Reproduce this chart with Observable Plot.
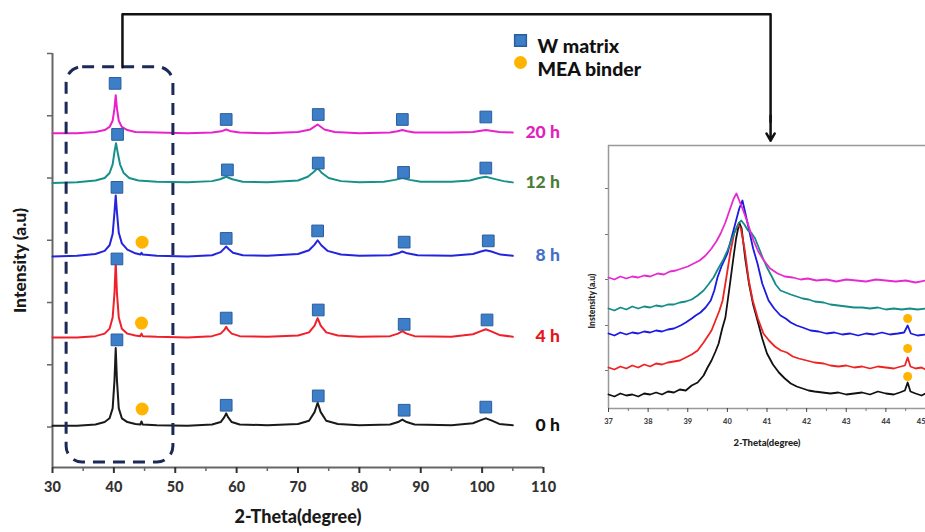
<!DOCTYPE html>
<html><head><meta charset="utf-8">
<script src="https://cdn.jsdelivr.net/npm/d3@7"></script>
<script src="https://cdn.jsdelivr.net/npm/@observablehq/plot@0.6"></script>
<style>
html,body{margin:0;padding:0;background:#fff;overflow:hidden;}
#wrap{position:relative;width:925px;height:532px;overflow:hidden;}
#wrap svg{position:absolute;left:0;top:0;max-width:none;background:transparent;}
</style></head><body><div id="wrap"></div>
<script>
// ---------------- Main XRD patterns (2-Theta, intensity a.u. offset) ----------------
const pattern0h = [[30,0.02],[34,0.02],[37,0.04],[38.5,0.08],[39.3,0.14],[39.8,0.3],[40.1,0.75],[40.3,1.27],[40.5,0.75],[40.8,0.3],[41.3,0.14],[42.2,0.08],[43.5,0.05],[44.3,0.04],[44.5,0.09],[44.7,0.04],[47,0.03],[52,0.02],[56,0.04],[57.4,0.08],[58,0.16],[58.3,0.22],[58.6,0.16],[59.2,0.08],[60.5,0.04],[65,0.03],[70,0.05],[71.8,0.1],[72.7,0.24],[73.2,0.39],[73.7,0.24],[74.6,0.1],[76.5,0.05],[80,0.03],[85,0.04],[86.3,0.08],[87,0.12],[87.7,0.08],[89,0.04],[95,0.03],[98.5,0.06],[99.8,0.11],[100.6,0.14],[101.4,0.11],[102.8,0.05],[105,0.03]];
const pattern4h = [[30,1.44],[34,1.44],[37,1.46],[38.5,1.5],[39.3,1.58],[39.8,1.76],[40.1,2.15],[40.3,2.65],[40.5,2.15],[40.8,1.76],[41.3,1.58],[42.2,1.5],[43.5,1.47],[44.3,1.46],[44.5,1.5],[44.7,1.46],[47,1.45],[52,1.44],[56,1.46],[57.4,1.5],[58,1.56],[58.3,1.61],[58.6,1.56],[59.2,1.5],[60.5,1.46],[65,1.45],[70,1.47],[71.8,1.52],[72.7,1.63],[73.2,1.75],[73.7,1.63],[74.6,1.52],[76.5,1.47],[80,1.45],[85,1.46],[86.3,1.5],[87,1.54],[87.7,1.5],[89,1.46],[95,1.45],[98.5,1.49],[99.8,1.54],[100.6,1.57],[101.4,1.54],[102.8,1.48],[105,1.45]];
const pattern8h = [[30,2.74],[34,2.75],[37,2.78],[38.5,2.83],[39.3,2.92],[39.8,3.1],[40.1,3.45],[40.3,3.72],[40.5,3.45],[40.8,3.12],[41.3,2.95],[42.2,2.85],[43.5,2.79],[44.3,2.77],[44.5,2.8],[44.7,2.77],[47,2.75],[52,2.74],[56,2.76],[57.4,2.81],[58,2.87],[58.3,2.9],[58.7,2.86],[59.4,2.8],[61,2.76],[65,2.75],[70,2.78],[71.8,2.84],[72.7,2.93],[73.2,3.0],[73.8,2.92],[74.8,2.83],[77,2.77],[80,2.75],[85,2.76],[86.3,2.79],[87,2.82],[87.8,2.79],[89.5,2.76],[95,2.75],[98.5,2.78],[99.8,2.82],[100.6,2.84],[101.5,2.82],[103,2.77],[105,2.75]];
const pattern12h = [[30,3.92],[34,3.93],[37,3.96],[38.5,4.0],[39.3,4.08],[39.8,4.22],[40.1,4.42],[40.35,4.56],[40.6,4.42],[41,4.22],[41.6,4.08],[42.5,4.0],[44,3.96],[47,3.94],[52,3.93],[56,3.95],[57.3,3.98],[58.3,4.02],[59.3,3.98],[61,3.94],[65,3.93],[70,3.96],[71.6,4.02],[72.6,4.1],[73.2,4.16],[73.9,4.08],[75,4.0],[77,3.95],[80,3.93],[84,3.94],[85.8,3.97],[87,4.0],[88.2,3.97],[90,3.94],[95,3.94],[98,3.96],[99.5,4.0],[100.6,4.02],[101.8,3.99],[103.5,3.95],[105,3.93]];
const pattern20h = [[30,4.72],[34,4.72],[37,4.74],[38.5,4.77],[39.3,4.82],[39.8,4.92],[40.1,5.12],[40.3,5.33],[40.5,5.12],[40.8,4.92],[41.3,4.82],[42.2,4.77],[43.5,4.74],[47,4.73],[52,4.72],[56,4.73],[57.5,4.75],[58.3,4.78],[59.1,4.75],[60.5,4.73],[65,4.72],[70,4.74],[72,4.78],[73.2,4.86],[74.3,4.78],[76,4.74],[80,4.72],[85,4.73],[86.2,4.75],[87,4.77],[87.8,4.75],[89,4.73],[95,4.73],[98.5,4.74],[99.8,4.76],[100.6,4.77],[101.4,4.76],[102.8,4.74],[105,4.73]];

// W matrix peak markers (square) and MEA binder markers (circle)
const wMarks0h  = [[40.5,1.40],[58.3,0.35],[73.3,0.50],[87.3,0.27],[100.6,0.32]];
const wMarks4h  = [[40.5,2.70],[58.3,1.75],[73.3,1.88],[87.3,1.65],[100.8,1.72]];
const wMarks8h  = [[40.5,3.85],[58.3,3.03],[73.2,3.15],[87.3,2.97],[101.0,2.99]];
const wMarks12h = [[40.6,4.70],[58.5,4.13],[73.3,4.24],[87.2,4.09],[100.6,4.16]];
const wMarks20h = [[40.2,5.52],[58.3,4.94],[73.3,5.02],[87.0,4.94],[100.6,4.98]];
const meaMarks  = [[44.6,0.29],[44.5,1.67],[44.6,2.97]];

const seriesLabels = ["0 h","4 h","8 h","12 h","20 h"];
const xTicks = [30,40,50,60,70,80,90,100,110];
const xMinorTicks = [35,45,55,65,75,85,95,105];
const yTicks = [0,1,2,3,4,5,6];
const legendLabels = ["W matrix","MEA binder"];
const zoomWindow = {x1:32.3, x2:49.7, y1:-0.57, y2:5.78};
const connectorPath = [[41.4,5.78],[41.4,6.63],[147.0,6.63],[147.0,4.9]];
const connectorArrow = {x1:147.0, y1:5.0, x2:147.0, y2:4.6};

// ---------------- Inset (37-45 degrees) ----------------
const inset0h = [[37.0,14],[37.15,12],[37.3,15],[37.45,13],[37.6,14],[37.75,12],[37.9,15],[38.05,14],[38.2,16],[38.35,14],[38.5,17],[38.65,16],[38.8,19],[38.95,18],[39.1,23],[39.25,26],[39.4,33],[39.5,41],[39.6,48],[39.7,57],[39.78,65],[39.87,80],[39.95,91],[40.05,120],[40.15,150],[40.22,170],[40.3,186],[40.36,180],[40.45,150],[40.55,124],[40.65,104],[40.76,88],[40.88,70],[41.0,55],[41.15,44],[41.3,36],[41.45,30],[41.6,25],[41.75,22],[41.9,20],[42.05,18],[42.2,17],[42.4,16],[42.6,15],[42.8,16],[43.0,14],[43.2,15],[43.4,16],[43.6,14],[43.8,17],[44.0,15],[44.2,14],[44.35,16],[44.48,18],[44.55,26],[44.62,17],[44.75,15],[44.9,13],[45.0,15]];
const inset4h = [[37.0,41],[37.15,39],[37.3,42],[37.45,40],[37.6,43],[37.75,41],[37.9,44],[38.05,42],[38.2,45],[38.35,44],[38.5,46],[38.65,47],[38.8,48],[38.95,51],[39.1,54],[39.25,58],[39.4,66],[39.5,72],[39.6,78],[39.7,88],[39.8,98],[39.88,108],[39.97,130],[40.07,155],[40.17,175],[40.27,184],[40.34,180],[40.44,158],[40.54,128],[40.64,108],[40.77,90],[40.91,75],[41.05,68],[41.2,62],[41.35,58],[41.5,56],[41.65,52],[41.8,50],[42.0,48],[42.2,46],[42.43,45],[42.6,43],[42.8,42],[43.0,43],[43.2,41],[43.4,42],[43.6,40],[43.8,42],[44.0,41],[44.2,40],[44.38,42],[44.48,43],[44.55,51],[44.62,42],[44.75,40],[44.9,41],[45.0,39]];
const inset8h = [[37.0,75],[37.15,73],[37.3,76],[37.45,74],[37.6,76],[37.75,75],[37.9,77],[38.05,76],[38.2,78],[38.35,77],[38.5,79],[38.65,80],[38.82,83],[38.95,86],[39.1,90],[39.2,93],[39.32,96],[39.45,101],[39.58,108],[39.67,118],[39.75,131],[39.85,142],[40.0,155],[40.1,170],[40.2,185],[40.3,200],[40.38,208],[40.45,196],[40.55,178],[40.65,160],[40.76,145],[40.88,125],[41.04,108],[41.18,100],[41.34,93],[41.47,90],[41.6,86],[41.75,83],[41.9,81],[42.1,78],[42.3,77],[42.5,75],[42.7,76],[42.9,74],[43.1,75],[43.3,73],[43.5,75],[43.7,74],[43.9,76],[44.1,74],[44.3,75],[44.46,76],[44.55,83],[44.63,75],[44.8,73],[45.0,74]];
const inset12h = [[37.0,100],[37.15,98],[37.3,101],[37.45,99],[37.6,102],[37.75,100],[37.9,102],[38.05,101],[38.2,103],[38.35,102],[38.5,104],[38.65,104],[38.8,106],[38.95,107],[39.1,109],[39.25,113],[39.4,118],[39.52,124],[39.65,131],[39.77,140],[39.9,149],[40.0,158],[40.1,168],[40.2,178],[40.28,185],[40.35,188],[40.43,184],[40.52,178],[40.6,176],[40.7,170],[40.8,160],[40.9,150],[41.0,141],[41.12,132],[41.22,124],[41.34,118],[41.47,116],[41.6,114],[41.75,112],[41.9,110],[42.05,109],[42.2,107],[42.43,106],[42.6,104],[42.8,103],[43.0,102],[43.2,101],[43.4,101],[43.6,100],[43.8,101],[44.0,99],[44.2,100],[44.4,99],[44.6,100],[44.8,99],[45.0,100]];
const inset20h = [[37.0,131],[37.15,129],[37.3,132],[37.45,130],[37.6,132],[37.75,131],[37.9,133],[38.05,132],[38.24,135],[38.4,134],[38.55,137],[38.7,138],[38.85,140],[39.0,142],[39.15,145],[39.3,148],[39.45,153],[39.6,160],[39.72,167],[39.83,175],[39.95,186],[40.08,201],[40.16,210],[40.23,215],[40.3,208],[40.4,198],[40.5,187],[40.58,177],[40.66,168],[40.78,157],[40.92,148],[41.08,140],[41.27,135],[41.45,132],[41.65,131],[41.85,129],[42.03,130],[42.25,128],[42.5,129],[42.75,127],[43.0,129],[43.25,128],[43.5,127],[43.75,129],[44.0,128],[44.25,127],[44.5,128],[44.75,126],[45.0,128]];
const insetMeaMarks = [[44.55,32],[44.55,60],[44.55,90]];
const insetXTicks = [37,38,39,40,41,42,43,44];
const insetLastTick = [45];
const insetXMinorTicks = [37.5,38.5,39.5,40.5,41.5,42.5,43.5,44.5];
const insetYTicks = [38,83,129,174,220];

// ---------------- Styles ----------------
const lineColors  = ["#1a1a1a","#f0202a","#2424dc","#17908b","#e722cc"];
const labelColors = ["#111111","#e8141c","#4670c8","#4a7d36","#e020c0"];
const insetColors = ["#111111","#ee2424","#1a1ae0","#148c88","#e62ad0"];
const squareFill = "#3d7ec8", squareStroke = "#2a5e9c", dotFill = "#ffb400";
const FONT = "Lato, 'Open Sans', sans-serif";

const patterns = [pattern0h, pattern4h, pattern8h, pattern12h, pattern20h];
const wMarks = [wMarks0h, wMarks4h, wMarks8h, wMarks12h, wMarks20h];
const insets = [inset0h, inset4h, inset8h, inset12h, inset20h];
const toXY = a => a.map(([x, y]) => ({x, y}));

const wrap = document.getElementById("wrap");

// ---------------- Main plot ----------------
const main = Plot.plot({
  width: 925, height: 532,
  marginLeft: 52, marginRight: 382, marginTop: 53, marginBottom: 65,
  x: {domain: [30, 110]},
  y: {domain: [-0.65, 6]},
  style: {fontFamily: FONT, fontWeight: 900, background: "transparent", overflow: "visible"},
  marks: [
    Plot.ruleX([30], {stroke: "#666", strokeWidth: 2}),
    Plot.ruleY([-0.65], {stroke: "#666", strokeWidth: 2}),
    Plot.axisX({ticks: xTicks, tickSize: 6, tickPadding: 8, fontSize: 14.5, color: "#333", strokeWidth: 2, label: null}),
    Plot.axisX({ticks: xMinorTicks, tickSize: 4, tickFormat: () => "", color: "#666", strokeWidth: 1.5, label: null}),
    Plot.axisY({ticks: yTicks, tickSize: 5, tickFormat: () => "", color: "#666", strokeWidth: 1.5, label: null}),
    Plot.text(["2-Theta(degree)"], {frameAnchor: "bottom", dy: 55, fontSize: 18, fill: "#1a1a1a"}),
    Plot.text(["Intensity (a.u)"], {frameAnchor: "left", textAnchor: "middle", rotate: -90, dx: -32, fontSize: 17.5, fill: "#1a1a1a"}),
    ...patterns.map((p, i) => Plot.line(toXY(p), {x: "x", y: "y", stroke: lineColors[i], strokeWidth: 2})),
    Plot.rect([zoomWindow], {x1: "x1", x2: "x2", y1: "y1", y2: "y2", rx: 16, fill: "none", stroke: "#1c2a58", strokeWidth: 3, strokeDasharray: "12,8"}),
    Plot.line(toXY(connectorPath), {x: "x", y: "y", stroke: "#111", strokeWidth: 2.5}),
    Plot.arrow([connectorArrow], {x1: "x1", y1: "y1", x2: "x2", y2: "y2", stroke: "#111", strokeWidth: 2.5, headLength: 9}),
    ...wMarks.map(m => Plot.dot(toXY(m), {x: "x", y: "y", symbol: "square", r: 6.6, fill: squareFill, stroke: squareStroke, strokeWidth: 1})),
    Plot.dot(toXY(meaMarks), {x: "x", y: "y", r: 6.5, fill: dotFill}),
    ...patterns.map((p, i) => Plot.text([seriesLabels[i]], {x: p[p.length - 1][0], y: p[p.length - 1][1], dx: 47, textAnchor: "end", fontSize: 17.5, fill: labelColors[i]})),
    Plot.dot([legendLabels[0]], {frameAnchor: "top-left", dx: 468, dy: -13, symbol: "square", r: 6.6, fill: squareFill, stroke: squareStroke}),
    Plot.dot([legendLabels[1]], {frameAnchor: "top-left", dx: 468, dy: 9, r: 6.5, fill: dotFill}),
    Plot.text([legendLabels[0]], {frameAnchor: "top-left", dx: 485, dy: -14, textAnchor: "start", fontSize: 19.5, fill: "#111"}),
    Plot.text([legendLabels[1]], {frameAnchor: "top-left", dx: 485, dy: 9, textAnchor: "start", fontSize: 19.5, fill: "#111"})
  ]
});
wrap.appendChild(main);

// ---------------- Inset plot ----------------
const inset = Plot.plot({
  width: 925, height: 532,
  marginLeft: 608, marginRight: 0, marginTop: 145, marginBottom: 124,
  x: {domain: [37, 45]},
  y: {domain: [0, 263]},
  style: {fontFamily: FONT, fontWeight: 900, background: "transparent"},
  marks: [
    Plot.ruleX([37], {stroke: "#999", strokeWidth: 1.5}),
    Plot.ruleY([0], {stroke: "#999", strokeWidth: 1.5}),
    Plot.ruleY([263], {stroke: "#999", strokeWidth: 1.5}),
    Plot.axisX({ticks: insetXTicks, tickSize: 4, tickPadding: 6, fontSize: 7.5, color: "#444", label: null}),
    Plot.axisX({ticks: insetLastTick, tickSize: 4, tickPadding: 6, fontSize: 7.5, color: "#444", textAnchor: "end", label: null}),
    Plot.axisX({ticks: insetXMinorTicks, tickSize: 3, tickFormat: () => "", color: "#777", label: null}),
    Plot.axisY({ticks: insetYTicks, tickSize: 3, tickFormat: () => "", color: "#777", label: null}),
    Plot.text(["2-Theta(degree)"], {frameAnchor: "bottom", dy: 37, fontSize: 9.5, fill: "#222"}),
    Plot.text(["Instensity (a.u)"], {frameAnchor: "left", textAnchor: "middle", rotate: -90, dx: -16, dy: 24, fontSize: 8.5, fill: "#222"}),
    ...insets.map((p, i) => Plot.line(toXY(p), {x: "x", y: "y", stroke: insetColors[i], strokeWidth: 1.8})),
    Plot.dot(toXY(insetMeaMarks), {x: "x", y: "y", r: 4.5, fill: dotFill})
  ]
});
wrap.appendChild(inset);
</script></body></html>
